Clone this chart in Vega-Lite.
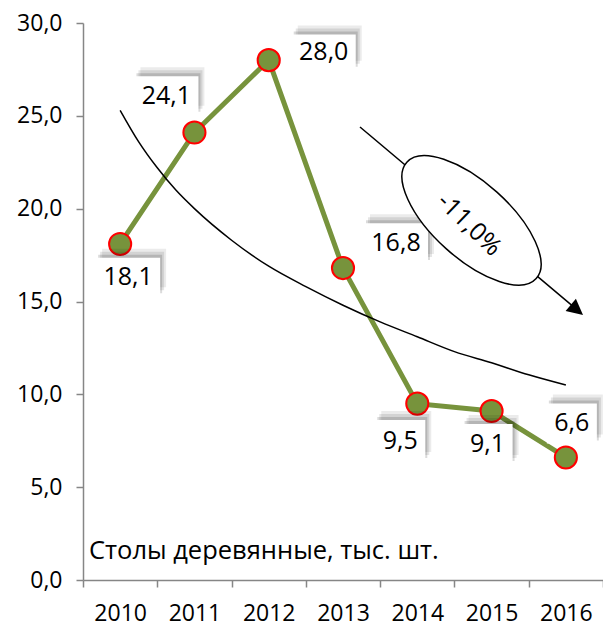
{
  "$schema": "https://vega.github.io/schema/vega-lite/v6.json",
  "width": 520,
  "height": 557,
  "autosize": {"type": "none"},
  "padding": {"left": 83, "top": 23, "right": 0, "bottom": 46},
  "background": "white",
  "config": {
    "view": {"stroke": null},
    "font": "Open Sans",
    "locale": {"number": {"decimal": ",", "thousands": "\u00a0", "grouping": [3], "currency": ["", "\u00a0₽"]}}
  },
  "datasets": {
    "main": [
      {"year": 2010, "value": 18.1},
      {"year": 2011, "value": 24.1},
      {"year": 2012, "value": 28.0},
      {"year": 2013, "value": 16.8},
      {"year": 2014, "value": 9.5},
      {"year": 2015, "value": 9.1},
      {"year": 2016, "value": 6.6}
    ],
    "trend": [
      {"year": 2010, "value": 25.3},
      {"year": 2010.25, "value": 23.6},
      {"year": 2010.5, "value": 22.2},
      {"year": 2010.75, "value": 21.0},
      {"year": 2011, "value": 20.0},
      {"year": 2011.5, "value": 18.3},
      {"year": 2012, "value": 16.9},
      {"year": 2012.5, "value": 15.8},
      {"year": 2013, "value": 14.8},
      {"year": 2013.5, "value": 13.9},
      {"year": 2014, "value": 13.1},
      {"year": 2014.5, "value": 12.3},
      {"year": 2015, "value": 11.7},
      {"year": 2015.5, "value": 11.05},
      {"year": 2016, "value": 10.5}
    ]
  },
  "data": {"name": "main"},
  "encoding": {
    "x": {
      "field": "year", "type": "quantitative",
      "scale": {"domain": [2009.5, 2016.5], "nice": false, "zero": false},
      "axis": {
        "values": [2009.5, 2010.5, 2011.5, 2012.5, 2013.5, 2014.5, 2015.5, 2016.5],
        "labelExpr": "datum.value < 2016 ? format(datum.value + 0.5, 'd') : ''",
        "labelOffset": 37.14, "labelFlush": false, "labelOverlap": false, "labelBound": false,
        "tickSize": 7, "labelFontSize": 23, "labelPadding": 15, "labelColor": "#000",
        "labelFont": "Open Sans", "title": null, "grid": false,
        "domainColor": "#868686", "tickColor": "#868686", "domainWidth": 1.5, "tickWidth": 1.5
      }
    },
    "y": {
      "field": "value", "type": "quantitative",
      "scale": {"domain": [0, 30], "nice": false},
      "axis": {
        "values": [0, 5, 10, 15, 20, 25, 30],
        "labelExpr": "replace(format(datum.value, '.1f'), '.', ',')",
        "tickSize": 7, "labelFontSize": 23, "labelPadding": 14, "labelColor": "#000",
        "labelFont": "Open Sans", "title": null, "grid": false, "labelFlush": false, "labelOverlap": false,
        "domainColor": "#868686", "tickColor": "#868686", "domainWidth": 1.5, "tickWidth": 1.5
      }
    }
  },
  "layer": [
    {"mark": {"type": "line", "color": "#77933C", "strokeWidth": 5}},
    {"data": {"name": "trend"}, "mark": {"type": "line", "color": "#000", "strokeWidth": 1.5, "interpolate": "monotone"}},
    {"mark": {"type": "circle", "size": 490, "fill": "#77933C", "stroke": "#FF0000", "strokeWidth": 2, "opacity": 1}},
    {
      "transform": [{"filter": "datum.year == 2010"}],
      "layer": [
        {"mark": {"type": "point", "shape": "M-1,-0.6L1,-0.6L1,0.6L-1,0.6Z", "size": 4096, "filled": true, "color": "#000", "opacity": 0.08, "strokeWidth": 0, "xOffset": 14, "yOffset": 24}},
        {"mark": {"type": "point", "shape": "M-1,-0.6L1,-0.6L1,0.6L-1,0.6Z", "size": 4096, "filled": true, "color": "#000", "opacity": 0.1, "strokeWidth": 0, "xOffset": 12, "yOffset": 27}},
        {"mark": {"type": "point", "shape": "M-1,-0.6L1,-0.6L1,0.6L-1,0.6Z", "size": 4096, "filled": true, "color": "#000", "opacity": 0.14, "strokeWidth": 0, "xOffset": 10, "yOffset": 30}},
        {"mark": {"type": "point", "shape": "M-1,-0.6L1,-0.6L1,0.6L-1,0.6Z", "size": 4096, "filled": true, "color": "#fff", "opacity": 1, "strokeWidth": 0, "xOffset": 8, "yOffset": 33}},
        {"mark": {"type": "text", "fontSize": 25, "color": "#000", "align": "center", "baseline": "middle", "xOffset": 8, "yOffset": 33}, "encoding": {"text": {"field": "value", "type": "quantitative", "format": ".1f"}}}
      ]
    },
    {
      "transform": [{"filter": "datum.year == 2011"}],
      "layer": [
        {"mark": {"type": "point", "shape": "M-1,-0.6L1,-0.6L1,0.6L-1,0.6Z", "size": 4096, "filled": true, "color": "#000", "opacity": 0.08, "strokeWidth": 0, "xOffset": -22, "yOffset": -46}},
        {"mark": {"type": "point", "shape": "M-1,-0.6L1,-0.6L1,0.6L-1,0.6Z", "size": 4096, "filled": true, "color": "#000", "opacity": 0.1, "strokeWidth": 0, "xOffset": -24, "yOffset": -43}},
        {"mark": {"type": "point", "shape": "M-1,-0.6L1,-0.6L1,0.6L-1,0.6Z", "size": 4096, "filled": true, "color": "#000", "opacity": 0.14, "strokeWidth": 0, "xOffset": -26, "yOffset": -40}},
        {"mark": {"type": "point", "shape": "M-1,-0.6L1,-0.6L1,0.6L-1,0.6Z", "size": 4096, "filled": true, "color": "#fff", "opacity": 1, "strokeWidth": 0, "xOffset": -28, "yOffset": -37}},
        {"mark": {"type": "text", "fontSize": 25, "color": "#000", "align": "center", "baseline": "middle", "xOffset": -28, "yOffset": -37}, "encoding": {"text": {"field": "value", "type": "quantitative", "format": ".1f"}}}
      ]
    },
    {
      "transform": [{"filter": "datum.year == 2012"}],
      "layer": [
        {"mark": {"type": "point", "shape": "M-1,-0.55L1,-0.55L1,0.55L-1,0.55Z", "size": 4096, "filled": true, "color": "#000", "opacity": 0.08, "strokeWidth": 0, "xOffset": 61, "yOffset": -17}},
        {"mark": {"type": "point", "shape": "M-1,-0.55L1,-0.55L1,0.55L-1,0.55Z", "size": 4096, "filled": true, "color": "#000", "opacity": 0.1, "strokeWidth": 0, "xOffset": 59, "yOffset": -14}},
        {"mark": {"type": "point", "shape": "M-1,-0.55L1,-0.55L1,0.55L-1,0.55Z", "size": 4096, "filled": true, "color": "#000", "opacity": 0.14, "strokeWidth": 0, "xOffset": 57, "yOffset": -11}},
        {"mark": {"type": "point", "shape": "M-1,-0.55L1,-0.55L1,0.55L-1,0.55Z", "size": 4096, "filled": true, "color": "#fff", "opacity": 1, "strokeWidth": 0, "xOffset": 55, "yOffset": -8}},
        {"mark": {"type": "text", "fontSize": 25, "color": "#000", "align": "center", "baseline": "middle", "xOffset": 55, "yOffset": -8}, "encoding": {"text": {"field": "value", "type": "quantitative", "format": ".1f"}}}
      ]
    },
    {
      "transform": [{"filter": "datum.year == 2013"}],
      "layer": [
        {"mark": {"type": "point", "shape": "M-1,-0.62L1,-0.62L1,0.62L-1,0.62Z", "size": 4096, "filled": true, "color": "#000", "opacity": 0.08, "strokeWidth": 0, "xOffset": 59, "yOffset": -34}},
        {"mark": {"type": "point", "shape": "M-1,-0.62L1,-0.62L1,0.62L-1,0.62Z", "size": 4096, "filled": true, "color": "#000", "opacity": 0.1, "strokeWidth": 0, "xOffset": 57, "yOffset": -31}},
        {"mark": {"type": "point", "shape": "M-1,-0.62L1,-0.62L1,0.62L-1,0.62Z", "size": 4096, "filled": true, "color": "#000", "opacity": 0.14, "strokeWidth": 0, "xOffset": 55, "yOffset": -28}},
        {"mark": {"type": "point", "shape": "M-1,-0.62L1,-0.62L1,0.62L-1,0.62Z", "size": 4096, "filled": true, "color": "#fff", "opacity": 1, "strokeWidth": 0, "xOffset": 53, "yOffset": -25}},
        {"mark": {"type": "text", "fontSize": 25, "color": "#000", "align": "center", "baseline": "middle", "xOffset": 53, "yOffset": -25}, "encoding": {"text": {"field": "value", "type": "quantitative", "format": ".1f"}}}
      ]
    },
    {
      "transform": [{"filter": "datum.year == 2014"}],
      "layer": [
        {"mark": {"type": "point", "shape": "M-1,-0.82L1,-0.82L1,0.82L-1,0.82Z", "size": 2500, "filled": true, "color": "#000", "opacity": 0.08, "strokeWidth": 0, "xOffset": -11, "yOffset": 28}},
        {"mark": {"type": "point", "shape": "M-1,-0.82L1,-0.82L1,0.82L-1,0.82Z", "size": 2500, "filled": true, "color": "#000", "opacity": 0.1, "strokeWidth": 0, "xOffset": -13, "yOffset": 31}},
        {"mark": {"type": "point", "shape": "M-1,-0.82L1,-0.82L1,0.82L-1,0.82Z", "size": 2500, "filled": true, "color": "#000", "opacity": 0.14, "strokeWidth": 0, "xOffset": -15, "yOffset": 34}},
        {"mark": {"type": "point", "shape": "M-1,-0.82L1,-0.82L1,0.82L-1,0.82Z", "size": 2500, "filled": true, "color": "#fff", "opacity": 1, "strokeWidth": 0, "xOffset": -17, "yOffset": 37}},
        {"mark": {"type": "text", "fontSize": 25, "color": "#000", "align": "center", "baseline": "middle", "xOffset": -17, "yOffset": 37}, "encoding": {"text": {"field": "value", "type": "quantitative", "format": ".1f"}}}
      ]
    },
    {
      "transform": [{"filter": "datum.year == 2015"}],
      "layer": [
        {"mark": {"type": "point", "shape": "M-1,-0.8L1,-0.8L1,0.8L-1,0.8Z", "size": 2500, "filled": true, "color": "#000", "opacity": 0.08, "strokeWidth": 0, "xOffset": 2, "yOffset": 24}},
        {"mark": {"type": "point", "shape": "M-1,-0.8L1,-0.8L1,0.8L-1,0.8Z", "size": 2500, "filled": true, "color": "#000", "opacity": 0.1, "strokeWidth": 0, "xOffset": 0, "yOffset": 27}},
        {"mark": {"type": "point", "shape": "M-1,-0.8L1,-0.8L1,0.8L-1,0.8Z", "size": 2500, "filled": true, "color": "#000", "opacity": 0.14, "strokeWidth": 0, "xOffset": -2, "yOffset": 30}},
        {"mark": {"type": "point", "shape": "M-1,-0.8L1,-0.8L1,0.8L-1,0.8Z", "size": 2500, "filled": true, "color": "#fff", "opacity": 1, "strokeWidth": 0, "xOffset": -4, "yOffset": 33}},
        {"mark": {"type": "text", "fontSize": 25, "color": "#000", "align": "center", "baseline": "middle", "xOffset": -4, "yOffset": 33}, "encoding": {"text": {"field": "value", "type": "quantitative", "format": ".1f"}}}
      ]
    },
    {
      "transform": [{"filter": "datum.year == 2016"}],
      "layer": [
        {"mark": {"type": "point", "shape": "M-1,-0.8L1,-0.8L1,0.8L-1,0.8Z", "size": 2500, "filled": true, "color": "#000", "opacity": 0.08, "strokeWidth": 0, "xOffset": 12, "yOffset": -43}},
        {"mark": {"type": "point", "shape": "M-1,-0.8L1,-0.8L1,0.8L-1,0.8Z", "size": 2500, "filled": true, "color": "#000", "opacity": 0.1, "strokeWidth": 0, "xOffset": 10, "yOffset": -40}},
        {"mark": {"type": "point", "shape": "M-1,-0.8L1,-0.8L1,0.8L-1,0.8Z", "size": 2500, "filled": true, "color": "#000", "opacity": 0.14, "strokeWidth": 0, "xOffset": 8, "yOffset": -37}},
        {"mark": {"type": "point", "shape": "M-1,-0.8L1,-0.8L1,0.8L-1,0.8Z", "size": 2500, "filled": true, "color": "#fff", "opacity": 1, "strokeWidth": 0, "xOffset": 6, "yOffset": -34}},
        {"mark": {"type": "text", "fontSize": 25, "color": "#000", "align": "center", "baseline": "middle", "xOffset": 6, "yOffset": -34}, "encoding": {"text": {"field": "value", "type": "quantitative", "format": ".1f"}}}
      ]
    },
    {
      "transform": [{"filter": "datum.year == 2010"}],
      "layer": [
        {
          "mark": {"type": "rule", "color": "#000", "strokeWidth": 1.5},
          "encoding": {
            "x": {"datum": 2013.229, "type": "quantitative"},
            "y": {"datum": 24.40, "type": "quantitative"},
            "x2": {"datum": 2016.137},
            "y2": {"datum": 14.60}
          }
        },
        {
          "mark": {"type": "point", "shape": "M0,0L-1,-0.5L-1,0.5Z", "size": 1024, "angle": 40, "filled": true, "color": "#000", "opacity": 1, "strokeWidth": 0},
          "encoding": {
            "x": {"datum": 2016.231, "type": "quantitative"},
            "y": {"datum": 14.27, "type": "quantitative"}
          }
        },
        {
          "mark": {"type": "point", "shape": "M1.320,1.188C1.033,1.507 0.210,1.233 -0.519,0.577C-1.248,-0.079 -1.607,-0.869 -1.320,-1.188C-1.033,-1.507 -0.210,-1.233 0.519,-0.577C1.248,0.079 1.607,0.869 1.320,1.188Z", "size": 9604, "filled": true, "fill": "#fff", "stroke": "#000", "strokeWidth": 1.5, "opacity": 1},
          "encoding": {
            "x": {"datum": 2014.73, "type": "quantitative"},
            "y": {"datum": 19.37, "type": "quantitative"}
          }
        },
        {
          "mark": {"type": "text", "text": "-11,0%", "angle": 44, "fontSize": 25, "color": "#000", "align": "center", "baseline": "middle"},
          "encoding": {
            "x": {"datum": 2014.70, "type": "quantitative"},
            "y": {"datum": 19.15, "type": "quantitative"}
          }
        },
        {
          "mark": {"type": "text", "text": "Столы деревянные, тыс. шт.", "fontSize": 25.5, "color": "#000", "align": "left", "baseline": "alphabetic", "dx": 6},
          "encoding": {
            "x": {"datum": 2009.5, "type": "quantitative"},
            "y": {"datum": 1.13, "type": "quantitative"}
          }
        }
      ]
    }
  ]
}
